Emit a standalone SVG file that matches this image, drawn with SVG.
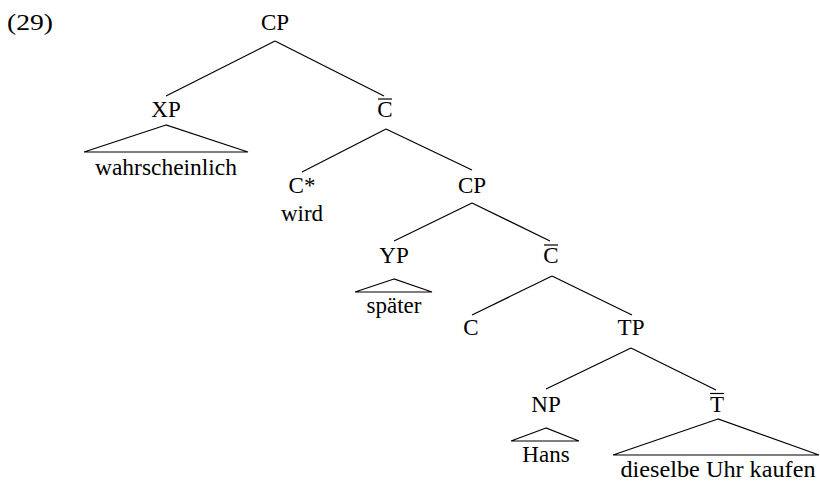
<svg xmlns="http://www.w3.org/2000/svg" width="820" height="481" viewBox="0 0 820 481">
<style>
text{font-family:"Liberation Serif","Times New Roman",serif;font-size:23px;fill:#000;text-anchor:middle}
line{stroke:#000;stroke-width:1.2;fill:none}
polygon{stroke:#000;stroke-width:1.2;fill:none}
</style>
<rect width="820" height="481" fill="#fff"/>
<text x="7" y="30" style="text-anchor:start" textLength="46" lengthAdjust="spacingAndGlyphs">(29)</text>
<g id="connectors">
<line x1="275" y1="41" x2="166" y2="96"/>
<line x1="275" y1="41" x2="384" y2="96"/>
<line x1="386" y1="129" x2="302" y2="172"/>
<line x1="386" y1="129" x2="472" y2="170"/>
<line x1="472" y1="203" x2="394" y2="241"/>
<line x1="472" y1="203" x2="550" y2="241"/>
<line x1="552" y1="276" x2="472" y2="315"/>
<line x1="552" y1="276" x2="632" y2="315"/>
<line x1="631" y1="348" x2="546" y2="389"/>
<line x1="631" y1="348" x2="716" y2="390"/>
</g>
<g id="n-cp1"><text x="275" y="30">CP</text></g>
<g id="n-xp"><text x="166" y="117">XP</text>
<polygon points="166,125 84,152 248,152"/>
<text x="166" y="175" textLength="142" lengthAdjust="spacingAndGlyphs">wahrscheinlich</text></g>
<g id="n-cbar1"><text x="385" y="117">C</text><line x1="378" y1="99" x2="392" y2="99"/></g>
<g id="n-cstar"><text x="302" y="193">C*</text><text x="302" y="221">wird</text></g>
<g id="n-cp2"><text x="472" y="193">CP</text></g>
<g id="n-yp"><text x="394" y="263">YP</text>
<polygon points="394,279 355,292 432,292"/>
<text x="394" y="313">später</text></g>
<g id="n-cbar2"><text x="551" y="263">C</text><line x1="544" y1="245" x2="558" y2="245"/></g>
<g id="n-c"><text x="471" y="335">C</text></g>
<g id="n-tp"><text x="631" y="335">TP</text></g>
<g id="n-np"><text x="546" y="412">NP</text>
<polygon points="546,428 511,441 579,441"/>
<text x="546" y="462">Hans</text></g>
<g id="n-tbar"><text x="717" y="412">T</text><line x1="710" y1="393.5" x2="724" y2="393.5"/>
<polygon points="718,419 613,455 819,455"/>
<text x="718" y="477" textLength="195" lengthAdjust="spacingAndGlyphs">dieselbe Uhr kaufen</text></g>
</svg>
